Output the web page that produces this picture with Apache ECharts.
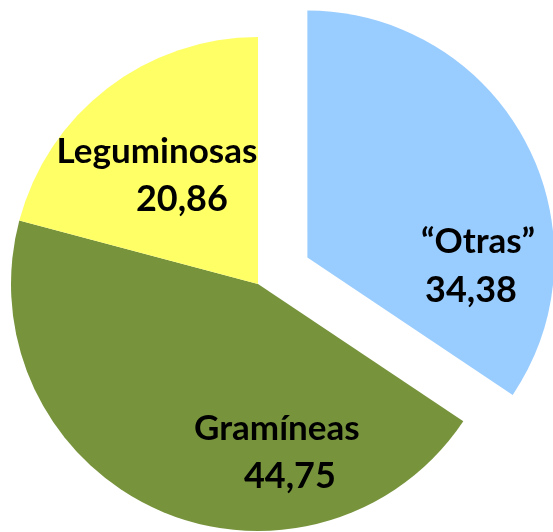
<!DOCTYPE html>
<html>
<head>
<meta charset="utf-8">
<script src="https://cdn.jsdelivr.net/npm/echarts@6/dist/echarts.min.js"></script>
<style>
  html, body { margin: 0; padding: 0; background: #fff; }
  #main { width: 553px; height: 532px; }
</style>
</head>
<body>
<div id="main"></div>
<script>
// datos
var categories = ['\u201cOtras\u201d', 'Gramíneas', 'Leguminosas'];
var values = [34.38, 44.75, 20.86];
var colors = ['#99CCFF', '#77933C', '#FFFF66'];

// ajuste de etiquetas (dx, dy desde la posicion "inside") y sangrias
var labelShift = [[52, 68], [71, 53], [-24, -8]];
var namePad = [14, 0, 0];
var valuePad = [0, 26, 50];

var chartDom = document.getElementById('main');
var myChart = echarts.init(chartDom);

var data = categories.map(function (name, i) {
  return {
    name: name,
    value: values[i],
    selected: i === 0,
    itemStyle: { color: colors[i] },
    label: {
      rich: {
        n: { fontFamily: 'Lato', fontWeight: 'bold', fontSize: 35, color: '#000', lineHeight: 48, padding: [0, 0, 0, namePad[i]] },
        v: { fontFamily: 'Lato', fontWeight: 'bold', fontSize: 36, color: '#000', lineHeight: 48, padding: [0, 0, 0, valuePad[i]] }
      }
    }
  };
});

var option = {
  animation: false,
  series: [
    {
      type: 'pie',
      center: [258, 284],
      radius: 247,
      startAngle: 90,
      clockwise: true,
      selectedMode: 'single',
      selectedOffset: 56,
      silent: true,
      itemStyle: { borderWidth: 0 },
      label: {
        show: true,
        position: 'inside',
        fontFamily: 'Lato',
        fontWeight: 'bold',
        fontSize: 35,
        color: '#000',
        lineHeight: 48,
        formatter: function (p) {
          return '{n|' + p.name + '}\n{v|' + p.value.toFixed(2).replace('.', ',') + '}';
        }
      },
      labelLine: { show: false },
      labelLayout: function (p) {
        var s = labelShift[p.dataIndex];
        return { dx: s[0], dy: s[1] };
      },
      emphasis: { disabled: true },
      data: data
    }
  ]
};

myChart.setOption(option);
</script>
</body>
</html>
